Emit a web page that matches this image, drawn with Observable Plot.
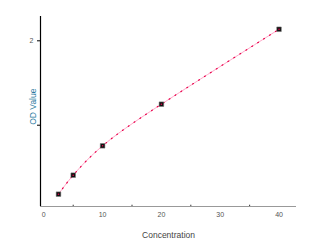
<!DOCTYPE html>
<html><head><meta charset="utf-8">
<script src="https://cdn.jsdelivr.net/npm/d3@7"></script>
<script src="https://cdn.jsdelivr.net/npm/@observablehq/plot@0.6"></script>
<style>body{margin:0;background:#fff}</style>
</head><body><div id="chart"></div>
<script>
const concentration = [2.5, 5, 10, 20, 40];
const odValue = [0.183, 0.408, 0.756, 1.249, 2.137];
const xTicks = [0, 10, 20, 30, 40];
const xMinorTicks = [5, 15, 25, 35];
const yTicks = [1, 2];
const yTickLabels = ["", "2"];

const data = concentration.map((c, i) => ({x: c, y: odValue[i]}));

const chart = Plot.plot({
  width: 321, height: 252,
  marginLeft: 40, marginRight: 25, marginTop: 16, marginBottom: 46,
  style: {fontFamily: "Liberation Sans, Arial, sans-serif", fontSize: "7px", background: "#fff"},
  x: {domain: [-0.56, 42.97], label: null},
  y: {domain: [0.037, 2.288], label: null},
  marks: [
    Plot.axisX({ticks: xTicks, tickSize: 0, tickPadding: 6, fill: "#555", fontSize: 7, label: null}),
    Plot.ruleX(xMinorTicks, {x: d => d, y1: 0.037, y2: 0.052, stroke: "#333"}),
    Plot.axisY({ticks: yTicks, tickSize: 3, tickPadding: 4, tickFormat: (d) => yTickLabels[yTicks.indexOf(d)], fill: "#555", fontSize: 7, label: null}),
    Plot.ruleY([0.037], {stroke: "#999"}),
    Plot.ruleX([-0.56], {stroke: "#000", strokeWidth: 1.2}),
    Plot.line(data, {x: "x", y: "y", curve: "natural", stroke: "#ffa8c8", strokeWidth: 1}),
    Plot.line(data, {x: "x", y: "y", curve: "natural", stroke: "#e8004a", strokeWidth: 1.2, strokeDasharray: "1,6"}),
    Plot.dot(data, {x: "x", y: "y", symbol: "square", r: 2.6, fill: "#111", stroke: "#777", strokeWidth: 0.5}),
    Plot.dot(data, {x: "x", y: "y", r: 0.8, fill: "#e8004a"}),
    Plot.text(["Concentration"], {frameAnchor: "bottom", dy: 31, fill: "#444", fontSize: 8.5}),
    Plot.text(["OD Value"], {x: () => -1.75, y: () => 1.22, rotate: -90, fill: "#2a7aa0", fontSize: 8.5})
  ]
});
document.getElementById("chart").appendChild(chart);
</script>
</body></html>
